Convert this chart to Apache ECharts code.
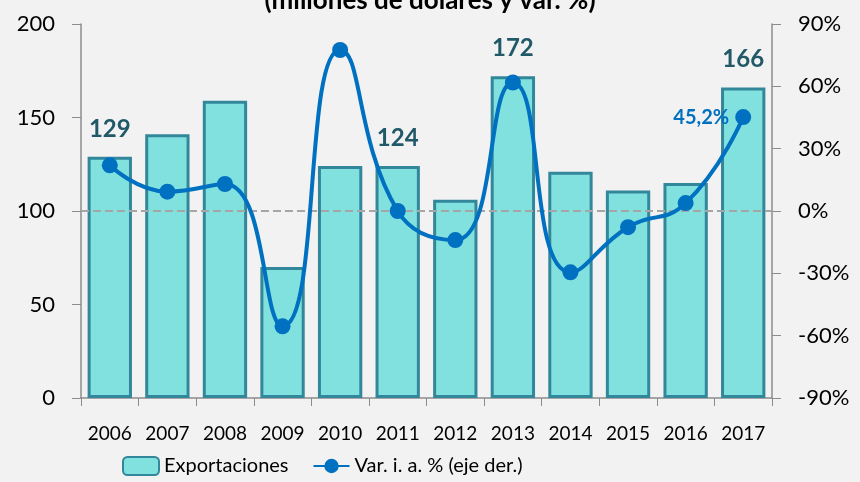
<!DOCTYPE html>
<html>
<head>
<meta charset="utf-8">
<script src="https://cdn.jsdelivr.net/npm/echarts@6/dist/echarts.min.js"></script>
<style>
  html, body { margin: 0; padding: 0; background: #f2f2f2; }
  #chart { width: 860px; height: 482px; }
</style>
</head>
<body>
<div id="chart"></div>
<script>
const years = ['2006', '2007', '2008', '2009', '2010', '2011', '2012', '2013', '2014', '2015', '2016', '2017'];
// millones de dolares
const exportaciones = [129, 141, 159, 70, 124, 124, 106, 172, 121, 111, 115, 166];
// var. i. a. %
const variacion = [22, 9.3, 13, -55.5, 77.5, 0, -14, 61.8, -29.5, -7.8, 3.8, 45.2];
// which bars get a value label
const barLabelYears = ['2006', '2011', '2013', '2017'];
const leftTicks = [0, 50, 100, 150, 200];
const rightTicks = [-90, -60, -30, 0, 30, 60, 90];

const font = 'Lato, "Open Sans", sans-serif';
const chart = echarts.init(document.getElementById('chart'));

chart.setOption({
    backgroundColor: '#f2f2f2',
    animation: false,
    title: {
        text: '(millones de dólares y var. %)',
        left: 'center',
        top: -17,
        textStyle: { fontFamily: font, fontSize: 26, fontWeight: 'bold', color: '#000' }
    },
    legend: {
        bottom: 1,
        left: 117,
        itemGap: 24,
        itemWidth: 36,
        itemHeight: 18,
        textStyle: { fontFamily: font, fontSize: 20, color: '#000' },
        data: [
            { name: 'Exportaciones' },
            { name: 'Var. i. a. % (eje der.)' }
        ]
    },
    grid: { left: 81, right: 88, top: 24, bottom: 84 },
    xAxis: {
        type: 'category',
        data: years,
        axisLine: { lineStyle: { color: '#8c8c8c', width: 1.5 } },
        axisTick: { show: true, length: 8, lineStyle: { color: '#8c8c8c' } },
        axisLabel: { interval: 0, fontFamily: font, fontSize: 19, color: '#000', margin: 26 }
    },
    yAxis: [
        {
            type: 'value',
            min: leftTicks[0],
            max: leftTicks[leftTicks.length - 1],
            interval: 50,
            splitLine: { show: false },
            axisLine: { show: true, lineStyle: { color: '#8c8c8c', width: 1.5 } },
            axisTick: { show: true, length: 9, lineStyle: { color: '#8c8c8c' } },
            axisLabel: { fontFamily: font, fontSize: 22, color: '#000', margin: 26 }
        },
        {
            type: 'value',
            min: rightTicks[0],
            max: rightTicks[rightTicks.length - 1],
            interval: 30,
            splitLine: { show: false },
            axisLine: { show: true, lineStyle: { color: '#8c8c8c', width: 1.5 } },
            axisTick: { show: true, length: 9, lineStyle: { color: '#8c8c8c' } },
            axisLabel: { fontFamily: font, fontSize: 22, color: '#000', margin: 26, formatter: '{value}%' }
        }
    ],
    series: [
        {
            name: 'Exportaciones',
            type: 'bar',
            data: exportaciones.map((v, i) => ({
                value: v,
                label: { show: barLabelYears.includes(years[i]) }
            })),
            barCategoryGap: '23%',
            itemStyle: { color: '#81e1df', borderColor: '#33879b', borderWidth: 3 },
            label: {
                position: 'top',
                distance: 16,
                fontFamily: font,
                fontSize: 24,
                fontWeight: 'bold',
                color: '#215968'
            }
        },
        {
            name: 'Var. i. a. % (eje der.)',
            type: 'line',
            yAxisIndex: 1,
            data: variacion.map((v, i) => ({
                value: v,
                label: { show: i === variacion.length - 1 }
            })),
            smooth: 0.5,
            symbol: 'circle',
            symbolSize: 16,
            lineStyle: { color: '#0070c0', width: 4 },
            itemStyle: { color: '#0070c0' },
            label: {
                position: 'left',
                distance: 6,
                fontFamily: font,
                fontSize: 20,
                fontWeight: 'bold',
                color: '#0070c0',
                formatter: p => String(p.value).replace('.', ',') + '%'
            },
            markLine: {
                silent: true,
                symbol: 'none',
                label: { show: false },
                lineStyle: { color: '#a6a6a6', type: 'dashed', width: 2 },
                data: [{ yAxis: 0 }]
            },
            z: 5
        }
    ]
});
</script>
</body>
</html>
